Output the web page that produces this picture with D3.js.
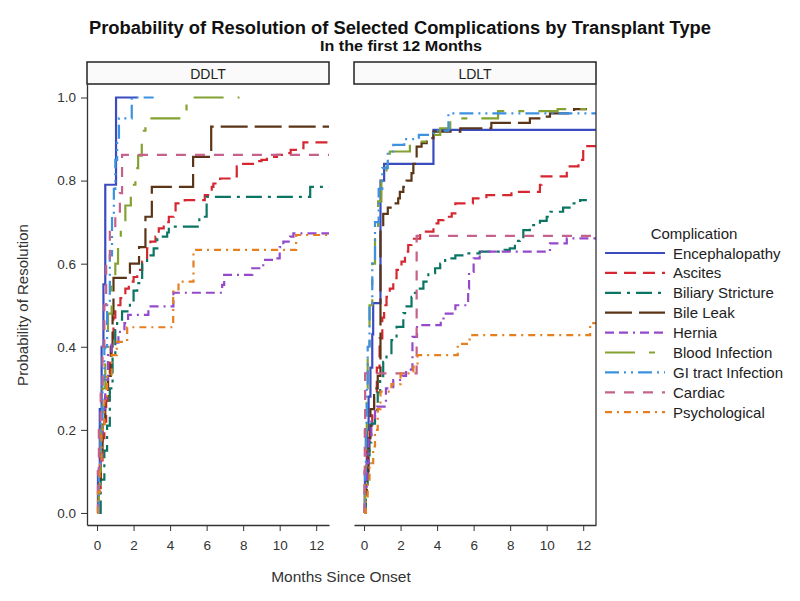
<!DOCTYPE html>
<html>
<head>
<meta charset="utf-8">
<script src="https://cdn.jsdelivr.net/npm/d3@7"></script>
<style>
  body { margin: 0; background: #fff; }
  svg { font-family: "Liberation Sans", Arial, sans-serif; }
</style>
</head>
<body>
<script>
// values: [months, probability of resolution]
const complications = ["Encephalopathy", "Ascites", "Biliary Stricture", "Bile Leak", "Hernia",
  "Blood Infection", "GI tract Infection", "Cardiac", "Psychological"];
const panelNames = ["DDLT", "LDLT"];
const monthTicks = [0, 2, 4, 6, 8, 10, 12];
const probTicks = [0, 0.2, 0.4, 0.6, 0.8, 1.0];

// DDLT
const ddltEnceph = [[0,0],[0.05,0.1],[0.15,0.25],[0.25,0.4],[0.35,0.55],[0.45,0.79],[1.04,1.0],[2.2,1.0]];
const ddltAscites = [[0,0],[0.1,0.06],[0.2,0.12],[0.3,0.18],[0.4,0.22],[0.5,0.27],[0.6,0.32],[0.7,0.37],[0.8,0.42],[0.9,0.47],[1.0,0.5],[1.28,0.517],[1.55,0.54],[1.74,0.557],[2.0,0.568],[2.2,0.585],[2.47,0.605],[2.74,0.637],[2.92,0.653],[3.2,0.665],[3.38,0.685],[3.65,0.7],[3.93,0.713],[4.2,0.725],[4.3,0.745],[4.8,0.753],[5.9,0.765],[6.28,0.785],[6.37,0.793],[6.74,0.805],[7.46,0.81],[7.65,0.834],[8.0,0.84],[8.66,0.847],[9.0,0.85],[9.3,0.857],[9.85,0.862],[10.3,0.866],[10.6,0.874],[11.1,0.878],[11.3,0.892],[12.7,0.892]];
const ddltBiliary = [[0,0],[0.2,0.08],[0.4,0.15],[0.55,0.21],[0.7,0.3],[0.85,0.38],[1.0,0.44],[1.1,0.465],[1.37,0.485],[1.8,0.505],[2.0,0.535],[2.2,0.553],[2.47,0.6],[2.74,0.62],[3.1,0.637],[3.3,0.665],[3.84,0.675],[3.93,0.689],[5.6,0.713],[6.0,0.761],[11.67,0.785],[12.7,0.785]];
const ddltBileLeak = [[0,0],[0.1,0.08],[0.2,0.15],[0.3,0.22],[0.45,0.28],[0.6,0.33],[0.75,0.4],[0.85,0.48],[0.9,0.566],[1.8,0.6],[2.3,0.64],[2.65,0.713],[3.0,0.785],[5.26,0.857],[6.25,0.93],[12.7,0.93]];
const ddltHernia = [[0,0],[0.1,0.1],[0.2,0.18],[0.3,0.25],[0.45,0.32],[0.6,0.38],[0.8,0.41],[1.17,0.436],[1.5,0.457],[1.7,0.477],[2.81,0.497],[4.18,0.53],[6.85,0.549],[6.96,0.573],[8.5,0.589],[9.1,0.609],[9.66,0.613],[10.0,0.64],[10.2,0.653],[10.57,0.665],[10.75,0.673],[12.7,0.673]];
const ddltBlood = [[0,0],[0.1,0.1],[0.2,0.2],[0.3,0.3],[0.45,0.4],[0.6,0.48],[0.8,0.55],[1.0,0.6],[1.15,0.64],[1.3,0.68],[1.55,0.74],[1.85,0.79],[2.1,0.83],[2.25,0.86],[2.45,0.92],[2.65,0.95],[4.9,1.0],[7.8,1.0]];
const ddltGI = [[0,0],[0.1,0.12],[0.2,0.22],[0.3,0.32],[0.4,0.4],[0.55,0.5],[0.7,0.62],[0.82,0.72],[0.92,0.78],[1.0,0.85],[1.1,0.9],[1.2,0.95],[1.9,1.0],[3.1,1.0]];
const ddltCardiac = [[0,0],[0.05,0.1],[0.1,0.2],[0.2,0.3],[0.3,0.4],[0.4,0.5],[0.5,0.6],[0.7,0.68],[1.0,0.72],[1.25,0.77],[1.37,0.862],[12.7,0.862]];
const ddltPsych = [[0,0],[0.05,0.05],[0.15,0.12],[0.25,0.2],[0.4,0.27],[0.55,0.33],[0.8,0.38],[1.08,0.412],[1.65,0.447],[4.17,0.533],[4.46,0.557],[5.28,0.633],[10.9,0.669],[12.7,0.669]];

// LDLT
const ldltEnceph = [[0,0],[0.05,0.1],[0.15,0.2],[0.25,0.28],[0.35,0.35],[0.45,0.43],[0.5,0.505],[0.9,0.8],[1.1,0.84],[3.8,0.922],[12.7,0.922]];
const ldltAscites = [[0,0],[0.1,0.08],[0.2,0.15],[0.3,0.2],[0.45,0.25],[0.55,0.29],[0.7,0.35],[0.85,0.42],[1.0,0.47],[1.1,0.5],[1.23,0.52],[1.41,0.54],[1.6,0.565],[1.78,0.585],[2.05,0.605],[2.24,0.629],[2.42,0.645],[2.6,0.66],[3.07,0.677],[3.8,0.697],[4.07,0.705],[4.35,0.713],[4.8,0.721],[5.0,0.745],[5.96,0.757],[6.7,0.765],[8.07,0.773],[9.63,0.79],[9.72,0.81],[11.1,0.834],[11.74,0.85],[12.0,0.883],[12.7,0.883]];
const ldltBiliary = [[0,0],[0.1,0.06],[0.2,0.12],[0.3,0.17],[0.4,0.215],[0.6,0.248],[0.75,0.29],[0.88,0.32],[1.05,0.364],[1.23,0.38],[1.5,0.416],[1.78,0.448],[2.15,0.481],[2.33,0.497],[2.6,0.52],[2.79,0.53],[2.97,0.54],[3.25,0.557],[3.52,0.577],[3.89,0.589],[4.17,0.6],[4.44,0.613],[5.0,0.62],[5.45,0.625],[6.33,0.629],[7.7,0.633],[7.98,0.637],[8.26,0.655],[8.53,0.661],[8.72,0.681],[9.08,0.693],[9.63,0.703],[10.0,0.713],[10.2,0.725],[10.9,0.735],[11.37,0.745],[11.83,0.753],[12.2,0.753]];
const ldltBileLeak = [[0,0],[0.05,0.05],[0.15,0.1],[0.25,0.18],[0.35,0.25],[0.55,0.3],[0.75,0.33],[0.9,0.69],[1.05,0.72],[1.3,0.735],[1.55,0.745],[1.87,0.757],[1.96,0.773],[2.15,0.785],[2.33,0.8],[2.6,0.818],[2.7,0.84],[2.88,0.882],[3.15,0.89],[3.43,0.902],[3.8,0.918],[5.27,0.926],[6.97,0.939],[9.08,0.95],[9.9,0.954],[10.18,0.962],[11.5,0.972],[12.2,0.972]];
const ldltHernia = [[0,0],[0.05,0.05],[0.15,0.12],[0.25,0.18],[0.4,0.22],[0.6,0.245],[0.7,0.256],[1.2,0.3],[1.6,0.32],[2.1,0.33],[2.3,0.345],[2.65,0.424],[2.9,0.452],[4.2,0.465],[4.35,0.48],[5.0,0.5],[5.7,0.54],[5.75,0.58],[6.0,0.613],[6.33,0.629],[10.18,0.649],[11.1,0.661],[12.7,0.661]];
const ldltBlood = [[0,0],[0.05,0.1],[0.1,0.2],[0.15,0.3],[0.2,0.4],[0.3,0.5],[0.45,0.6],[0.6,0.68],[0.77,0.75],[0.95,0.8],[1.23,0.85],[1.41,0.87],[2.51,0.894],[3.52,0.898],[3.7,0.91],[4.17,0.926],[4.72,0.95],[7.34,0.967],[10.6,0.972],[12.2,0.972]];
const ldltGI = [[0,0],[0.05,0.1],[0.1,0.2],[0.15,0.3],[0.2,0.4],[0.3,0.5],[0.45,0.6],[0.6,0.7],[0.8,0.78],[1.0,0.83],[1.3,0.87],[1.6,0.886],[2.2,0.9],[3.0,0.91],[3.8,0.92],[4.62,0.962],[12.7,0.962]];
const ldltCardiac = [[0,0],[0.02,0.1],[0.04,0.2],[0.06,0.336],[2.88,0.667],[12.7,0.667]];
const ldltPsych = [[0,0],[0.1,0.04],[0.2,0.08],[0.3,0.12],[0.5,0.16],[0.6,0.2],[0.75,0.25],[0.9,0.292],[1.5,0.31],[2.0,0.336],[2.7,0.352],[2.93,0.38],[5.13,0.407],[5.78,0.428],[12.38,0.457],[12.7,0.457]];

const panelData = [
  [ddltEnceph, ddltAscites, ddltBiliary, ddltBileLeak, ddltHernia, ddltBlood, ddltGI, ddltCardiac, ddltPsych],
  [ldltEnceph, ldltAscites, ldltBiliary, ldltBileLeak, ldltHernia, ldltBlood, ldltGI, ldltCardiac, ldltPsych]
];

// line styles, same order as complications
const colors = ["#3b4cc0", "#d62731", "#0b7563", "#5a3517", "#9549cc", "#84a232", "#3d91e0", "#c6618c", "#e57f1f"];
const dashes = [null, "12,7", "16,6,3,6", "27,7", "9,5,9,5,2,5", "30,14,6,14", "14,5,2,5,2,5", "10,9", "7,5,2,5"];

const width = 800, height = 601;
const panelW = 242;
const panelX = [87, 354];
const plotTop = 84, plotBottom = 525;
const fontFamily = '"Liberation Sans", Arial, sans-serif';

const svg = d3.select("body").append("svg")
  .attr("width", width)
  .attr("height", height);

svg.append("text")
  .attr("x", 400).attr("y", 34)
  .attr("text-anchor", "middle")
  .attr("textLength", 622).attr("lengthAdjust", "spacingAndGlyphs")
  .style("font-size", "17.5px").style("font-weight", "bold").attr("fill", "#111")
  .text("Probability of Resolution of Selected Complications by Transplant Type");
svg.append("text")
  .attr("x", 401).attr("y", 51)
  .attr("text-anchor", "middle")
  .attr("textLength", 162).attr("lengthAdjust", "spacingAndGlyphs")
  .style("font-size", "14.5px").style("font-weight", "bold").attr("fill", "#111")
  .text("In the first 12 Months");

const x = d3.scaleLinear().domain([-0.55, 12.7]).range([0, panelW]);
const y = d3.scaleLinear().domain([-0.029, 1.0325]).range([plotBottom, plotTop]);

const line = d3.line()
  .x(d => x(d[0]))
  .y(d => y(d[1]))
  .curve(d3.curveStepAfter);

panelNames.forEach((name, i) => {
  const g = svg.append("g").attr("transform", `translate(${panelX[i]},0)`);

  g.append("clipPath").attr("id", "clip" + i)
    .append("rect").attr("x", 0).attr("y", plotTop).attr("width", panelW).attr("height", plotBottom - plotTop);

  const lines = g.append("g").attr("clip-path", `url(#clip${i})`);
  panelData[i].forEach((s, k) => {
    lines.append("path")
      .attr("d", line(s))
      .attr("fill", "none")
      .attr("stroke", colors[k])
      .attr("stroke-width", 2.2)
      .attr("stroke-dasharray", dashes[k]);
  });

  // header strip
  g.append("rect")
    .attr("x", 0).attr("y", 62).attr("width", panelW).attr("height", 22)
    .attr("fill", "#fafafa").attr("stroke", "#222").attr("stroke-width", 1.5);
  g.append("text")
    .attr("x", panelW / 2).attr("y", 78.5)
    .attr("text-anchor", "middle")
    .style("font-size", "14px").attr("fill", "#222")
    .text(name);

  const xAxis = g.append("g")
    .attr("transform", `translate(0,${plotBottom})`)
    .attr("font-family", fontFamily)
    .call(d3.axisBottom(x).tickValues(monthTicks).tickSize(6).tickSizeOuter(0));
  xAxis.select(".domain").attr("stroke", "#333").attr("stroke-width", 1.3);
  xAxis.selectAll(".tick line").attr("stroke", "#333");
  xAxis.selectAll(".tick text").style("font-size", "13.5px").attr("fill", "#333").attr("y", 15);

  if (i === 0) {
    const yAxis = g.append("g")
      .attr("font-family", fontFamily)
      .call(d3.axisLeft(y).tickValues(probTicks).tickFormat(d3.format(".1f")).tickSize(6).tickSizeOuter(0));
    yAxis.select(".domain").attr("stroke", "#333").attr("stroke-width", 1.3);
    yAxis.selectAll(".tick line").attr("stroke", "#333");
    yAxis.selectAll(".tick text").style("font-size", "13.5px").attr("fill", "#333").attr("x", -11);
  } else {
    g.append("line")
      .attr("x1", panelW).attr("x2", panelW).attr("y1", plotTop).attr("y2", plotBottom)
      .attr("stroke", "#333").attr("stroke-width", 1.3);
  }
});

svg.append("text")
  .attr("x", 341).attr("y", 582)
  .attr("text-anchor", "middle")
  .style("font-size", "15.5px").attr("fill", "#333")
  .text("Months Since Onset");
svg.append("text")
  .attr("transform", "translate(28,305) rotate(-90)")
  .attr("text-anchor", "middle")
  .style("font-size", "15px").attr("fill", "#333")
  .text("Probability of Resolution");

// legend
const legend = svg.append("g");
legend.append("text")
  .attr("x", 694).attr("y", 239)
  .attr("text-anchor", "middle")
  .style("font-size", "15px").attr("fill", "#222")
  .text("Complication");
complications.forEach((c, k) => {
  const ly = 253 + k * 19.9;
  legend.append("line")
    .attr("x1", 605).attr("x2", 665).attr("y1", ly).attr("y2", ly)
    .attr("stroke", colors[k]).attr("stroke-width", 2.2)
    .attr("stroke-dasharray", dashes[k]);
  legend.append("text")
    .attr("x", 673).attr("y", ly + 5.5)
    .style("font-size", "15px").attr("fill", "#222")
    .text(c);
});
</script>
</body>
</html>
